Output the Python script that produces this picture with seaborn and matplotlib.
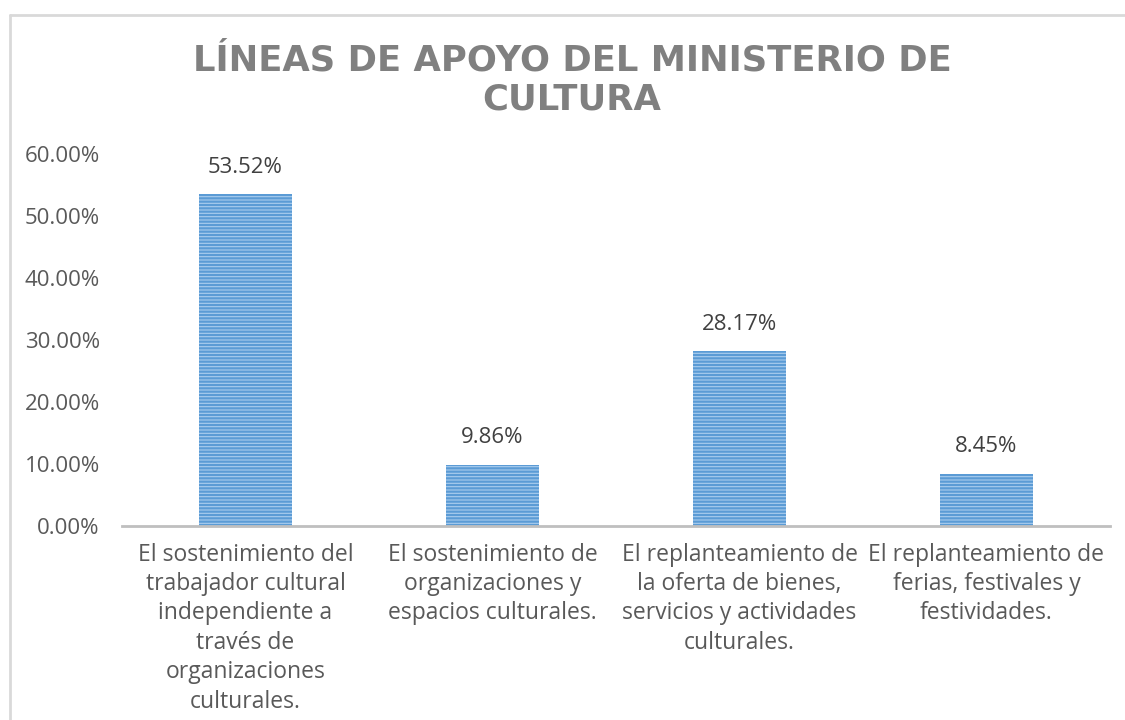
import matplotlib
matplotlib.use("Agg")
import matplotlib.pyplot as plt
import pandas as pd
import seaborn as sns
from matplotlib.lines import Line2D
from matplotlib.ticker import FuncFormatter

CATEGORIES = [
    "El sostenimiento del\ntrabajador cultural\nindependiente a\ntravés de\norganizaciones\nculturales.",
    "El sostenimiento de\norganizaciones y\nespacios culturales.",
    "El replanteamiento de\nla oferta de bienes,\nservicios y actividades\nculturales.",
    "El replanteamiento de\nferias, festivales y\nfestividades.",
]
VALUES = [0.5352, 0.0986, 0.2817, 0.0845]
VALUE_LABELS = ["53.52%", "9.86%", "28.17%", "8.45%"]
Y_TICKS = [0.0, 0.1, 0.2, 0.3, 0.4, 0.5, 0.6]
TITLE = "LÍNEAS DE APOYO DEL MINISTERIO DE\nCULTURA"

TEXT_COLOR = "#595959"
BAR_FACE = "#aacdee"
BAR_HATCH = "#5b9bd5"

sns.set_theme(style="white")
plt.rcParams["font.family"] = ["Open Sans", "DejaVu Sans"]
plt.rcParams["hatch.linewidth"] = 1.6

data = pd.DataFrame({"category": CATEGORIES, "value": VALUES})

fig = plt.figure(figsize=(11.25, 7.2), dpi=100)
ax = fig.add_axes([122 / 1125, 1 - 526 / 720, 988 / 1125, 372 / 720])

sns.barplot(data=data, x="category", y="value", ax=ax, width=0.38,
            color=BAR_FACE, saturation=1)
for patch in ax.patches:
    patch.set_hatch("-----")
    patch.set_edgecolor(BAR_HATCH)
    patch.set_linewidth(0)

for i, (v, lab) in enumerate(zip(VALUES, VALUE_LABELS)):
    ax.annotate(lab, (i, v), xytext=(0, 12), textcoords="offset points",
                ha="center", va="bottom", fontsize=16, color="#404040")

ax.set_ylim(0, 0.6)
ax.set_yticks(Y_TICKS)
ax.yaxis.set_major_formatter(FuncFormatter(lambda y, _: f"{y * 100:.2f}%"))
ax.set_xlim(-0.5, 3.5)
ax.set_xlabel("")
ax.set_ylabel("")
ax.tick_params(axis="y", labelsize=16, labelcolor=TEXT_COLOR, length=0, pad=16)
ax.tick_params(axis="x", labelsize=16.5, labelcolor=TEXT_COLOR, length=0, pad=12)
for lbl in ax.get_xticklabels():
    lbl.set_linespacing(1.3)
for spine in ["top", "right", "left"]:
    ax.spines[spine].set_visible(False)
ax.spines["bottom"].set_color("#bfbfbf")
ax.spines["bottom"].set_linewidth(2)

fig.text(572 / 1125, 1 - 80 / 720, TITLE, ha="center", va="center", fontsize=25.5,
         fontweight="bold", color="#808080", linespacing=1.18,
         family=["DejaVu Sans"])

# chart frame
fig.add_artist(Line2D([10 / 1125, 1], [1 - 15 / 720, 1 - 15 / 720],
                      transform=fig.transFigure, color="#d9d9d9", linewidth=2))
fig.add_artist(Line2D([10 / 1125, 10 / 1125], [0, 1 - 15 / 720],
                      transform=fig.transFigure, color="#d9d9d9", linewidth=2))

fig.savefig("out.png", dpi=100, facecolor="white")
